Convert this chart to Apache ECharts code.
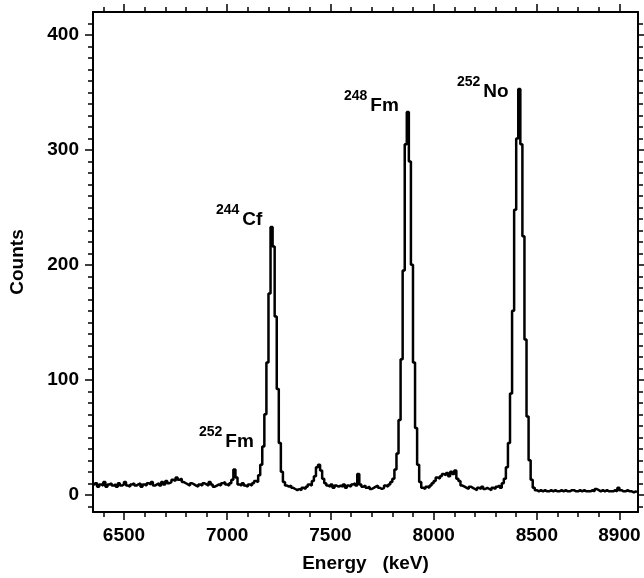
<!DOCTYPE html>
<html>
<head>
<meta charset="utf-8">
<script src="https://cdn.jsdelivr.net/npm/echarts@6/dist/echarts.min.js"></script>
<style>html,body{margin:0;padding:0;background:#fff}#main{width:644px;height:578px}</style>
</head>
<body>
<div id="main"></div>
<script>
// 10 keV bins starting at 6350 keV
var binStart = 6350;
var binWidth = 10;
var counts = [
    8, 10, 7, 9, 8, 11, 7, 9, 10, 8,
    9, 7, 10, 8, 9, 11, 8, 7, 9, 10,
    8, 9, 10, 7, 9, 8, 10, 9, 11, 8,
    9, 10, 8, 11, 9, 12, 10, 11, 13, 12,
    15, 13, 14, 11, 10, 9, 8, 10, 9, 8,
    7, 9, 8, 10, 9, 8, 11, 9, 7, 8,
    9, 8, 10, 11, 9, 8, 10, 13, 22, 15,
    9, 8, 10, 8, 7, 9, 8, 10, 12, 11,
    17, 26, 42, 70, 115, 175, 233, 216, 155, 92,
    45, 20, 11, 8, 7, 8, 6, 5, 4, 5,
    4, 6, 5, 7, 9, 8, 12, 16, 24, 26,
    21, 14, 10, 8, 7, 9, 6, 8, 7, 8,
    7, 9, 6, 8, 7, 9, 10, 8, 18, 9,
    7, 8, 6, 7, 5, 6, 7, 8, 6, 5,
    6, 8, 7, 9, 11, 14, 22, 36, 65, 118,
    195, 305, 333, 290, 200, 115, 58, 26, 11, 6,
    5, 7, 6, 8, 10, 12, 15, 14, 16, 18,
    17, 19, 16, 20, 18, 21, 14, 12, 8, 7,
    6, 5, 7, 6, 5, 4, 6, 5, 7, 5,
    6, 5, 4, 6, 5, 7, 8, 6, 10, 14,
    24, 45, 88, 160, 248, 310, 353, 305, 225, 135,
    68, 30, 13, 6, 4, 3, 4, 3, 4, 3,
    3, 4, 3, 4, 3, 3, 4, 3, 4, 3,
    3, 4, 4, 3, 3, 4, 3, 4, 3, 3,
    3, 4, 3, 5, 4, 3, 4, 3, 4, 3,
    3, 3, 4, 3, 6, 4, 3, 3, 4, 3,
    3, 2, 3, 2
];
var xLabels = [6500, 7000, 7500, 8000, 8500, 8900];
var xMinor = [6400, 6500, 6600, 6700, 6800, 6900, 7000, 7100, 7200, 7300, 7400, 7500, 7600,
    7700, 7800, 7900, 8000, 8100, 8200, 8300, 8400, 8500, 8600, 8700, 8800, 8900];
var yLabels = [0, 100, 200, 300, 400];
var yMinor = [];
for (var v = -10; v <= 410; v += 10) yMinor.push(v);

var peaks = [
    {iso: '244', el: 'Cf', x: 216, y: 203},
    {iso: '248', el: 'Fm', x: 344, y: 89},
    {iso: '252', el: 'No', x: 457, y: 75},
    {iso: '252', el: 'Fm', x: 199, y: 425}
];

var points = counts.map(function (c, i) {
    return [binStart + binWidth * i + binWidth / 2, c];
});

var font = 'Liberation Sans, Arial, sans-serif';
var xMin = 6350, xMax = 8990, yMin = -15, yMax = 420;
var labelStyle = {color: '#000', fontSize: 19, fontWeight: 'bold', fontFamily: font};

function xAx(pos, vals, len, labels, line) {
    return {
        type: 'value', position: pos, min: xMin, max: xMax,
        axisLine: {show: line, onZero: false, lineStyle: {color: '#000', width: 2}},
        axisTick: {show: true, customValues: vals, length: len, lineStyle: {color: '#000', width: 1.5}},
        axisLabel: labels ? Object.assign({show: true, customValues: xLabels, margin: 14,
            formatter: function (v) { return String(v); }}, labelStyle) : {show: false},
        splitLine: {show: false}
    };
}
function yAx(pos, vals, len, labels, line) {
    return {
        type: 'value', position: pos, min: yMin, max: yMax,
        axisLine: {show: line, onZero: false, lineStyle: {color: '#000', width: 2}},
        axisTick: {show: true, customValues: vals, length: len, lineStyle: {color: '#000', width: 1.5}},
        axisLabel: labels ? Object.assign({show: true, customValues: yLabels, margin: 14}, labelStyle) : {show: false},
        splitLine: {show: false}
    };
}

var xAxes = [xAx('bottom', xLabels, 8, true, true), xAx('bottom', xMinor, 5, false, false),
    xAx('top', xLabels, 8, false, true), xAx('top', xMinor, 5, false, false)];
xAxes[0].name = 'Energy   (keV)';
xAxes[0].nameLocation = 'middle';
xAxes[0].nameGap = 42;
xAxes[0].nameTextStyle = labelStyle;
var yAxes = [yAx('left', yLabels, 8, true, true), yAx('left', yMinor, 5, false, false),
    yAx('right', yLabels, 8, false, true), yAx('right', yMinor, 5, false, false)];
yAxes[0].name = 'Counts';
yAxes[0].nameLocation = 'middle';
yAxes[0].nameGap = 66;
yAxes[0].nameTextStyle = labelStyle;

var myChart = echarts.init(document.getElementById('main'));
myChart.setOption({
    animation: false,
    grid: {left: 93, right: 6, top: 12, bottom: 61},
    xAxis: xAxes,
    yAxis: yAxes,
    graphic: peaks.map(function (p) {
        return {
            type: 'text', left: p.x, top: p.y,
            style: {
                text: '{a|' + p.iso + '}{b|' + p.el + '}',
                rich: {
                    a: {fontSize: 14, fontWeight: 'bold', fontFamily: font, fill: '#000', verticalAlign: 'top', padding: [0, 3, 8, 0]},
                    b: {fontSize: 19, fontWeight: 'bold', fontFamily: font, fill: '#000', padding: [7, 0, 0, 0]}
                }
            }
        };
    }),
    series: [{
        type: 'line', step: 'middle', data: points, showSymbol: false,
        xAxisIndex: 0, yAxisIndex: 0,
        lineStyle: {color: '#000', width: 2.5}
    }]
});
</script>
</body>
</html>
